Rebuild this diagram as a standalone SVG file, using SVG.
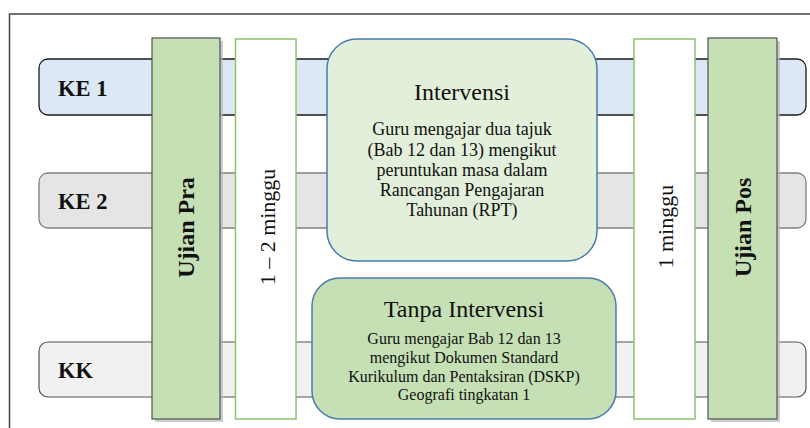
<svg xmlns="http://www.w3.org/2000/svg" width="810" height="428" viewBox="0 0 810 428">
<defs>
<style>
text{font-family:'Liberation Serif','DejaVu Serif',serif;fill:#111}
.lbl{font-size:22.5px;font-weight:bold}
.ttl{font-size:24px;text-anchor:middle}
.b1{font-size:18px;text-anchor:middle}
.b2{font-size:16px;text-anchor:middle}
.vb{font-size:24px;font-weight:bold;text-anchor:middle}
.vr{font-size:22px;text-anchor:middle}
.ujian{fill:#c5e0b4;stroke:#505050;stroke-width:1.2}
.wk{fill:#ffffff;stroke:#8cc46c;stroke-width:1.5}
.shadow{fill:#b8b8b8;opacity:0.7}
.rbox{stroke:#4a7cad;stroke-width:1.5}
</style>
</defs>
<rect x="0" y="0" width="810" height="428" fill="#ffffff"/>
<path d="M9.5 428 V14 H810" fill="none" stroke="#454545" stroke-width="1.5"/>

<g id="bar-ke1">
<rect x="39" y="59" width="767" height="56" rx="9" fill="#dce8f5" stroke="#1a1a1a" stroke-width="1.3"/>
<text class="lbl" x="58" y="96" font-family="Liberation Serif">KE 1</text>
</g>
<g id="bar-ke2">
<rect x="39" y="173" width="767" height="55" rx="9" fill="#e5e5e5" stroke="#808080" stroke-width="1.3"/>
<text class="lbl" x="58" y="209" font-family="Liberation Serif">KE 2</text>
</g>
<g id="bar-kk">
<rect x="39" y="342" width="767" height="55" rx="9" fill="#f1f1f1" stroke="#555555" stroke-width="1.2"/>
<text class="lbl" x="58" y="378" font-family="Liberation Serif">KK</text>
</g>

<g id="ujian-pra">
<rect class="shadow" x="155" y="41" width="68" height="381"/>
<rect class="ujian" x="152" y="38" width="68" height="381"/>
<text class="vb" transform="translate(194 227.5) rotate(-90)" font-family="Liberation Serif">Ujian Pra</text>
</g>

<g id="minggu-1-2">
<rect class="wk" x="235.5" y="39" width="60.5" height="380"/>
<text class="vr" transform="translate(275 227) rotate(-90)" font-family="Liberation Serif">1 – 2 minggu</text>
</g>

<g id="intervensi">
<rect class="rbox" x="327" y="39" width="270" height="222" rx="30" fill="#e2efda"/>
<text class="ttl" x="462" y="100" font-family="Liberation Serif">Intervensi</text>
<text class="b1" x="462" y="135" font-family="Liberation Serif">Guru mengajar dua tajuk</text>
<text class="b1" x="462" y="155.5" font-family="Liberation Serif">(Bab 12 dan 13) mengikut</text>
<text class="b1" x="462" y="175.7" font-family="Liberation Serif">peruntukan masa dalam</text>
<text class="b1" x="462" y="195.8" font-family="Liberation Serif">Rancangan Pengajaran</text>
<text class="b1" x="462" y="216" font-family="Liberation Serif">Tahunan (RPT)</text>
</g>

<g id="tanpa-intervensi">
<rect class="rbox" x="312" y="278" width="304" height="141" rx="28" fill="#c5e0b4"/>
<text class="ttl" x="464" y="316.5" font-family="Liberation Serif">Tanpa Intervensi</text>
<text class="b2" x="464" y="344" font-family="Liberation Serif">Guru mengajar Bab 12 dan 13</text>
<text class="b2" x="464" y="362.5" font-family="Liberation Serif">mengikut Dokumen Standard</text>
<text class="b2" x="464" y="381.5" font-family="Liberation Serif">Kurikulum dan Pentaksiran (DSKP)</text>
<text class="b2" x="464" y="399.5" font-family="Liberation Serif">Geografi tingkatan 1</text>
</g>

<g id="minggu-1">
<rect class="wk" x="634" y="39" width="61" height="380"/>
<text class="vr" transform="translate(673 226.7) rotate(-90)" font-family="Liberation Serif">1 minggu</text>
</g>

<g id="ujian-pos">
<rect class="shadow" x="711" y="41" width="69" height="381"/>
<rect class="ujian" x="708" y="38" width="69" height="381"/>
<text class="vb" transform="translate(750.5 227.3) rotate(-90)" font-family="Liberation Serif">Ujian Pos</text>
</g>

<g id="connectors"></g>
</svg>
